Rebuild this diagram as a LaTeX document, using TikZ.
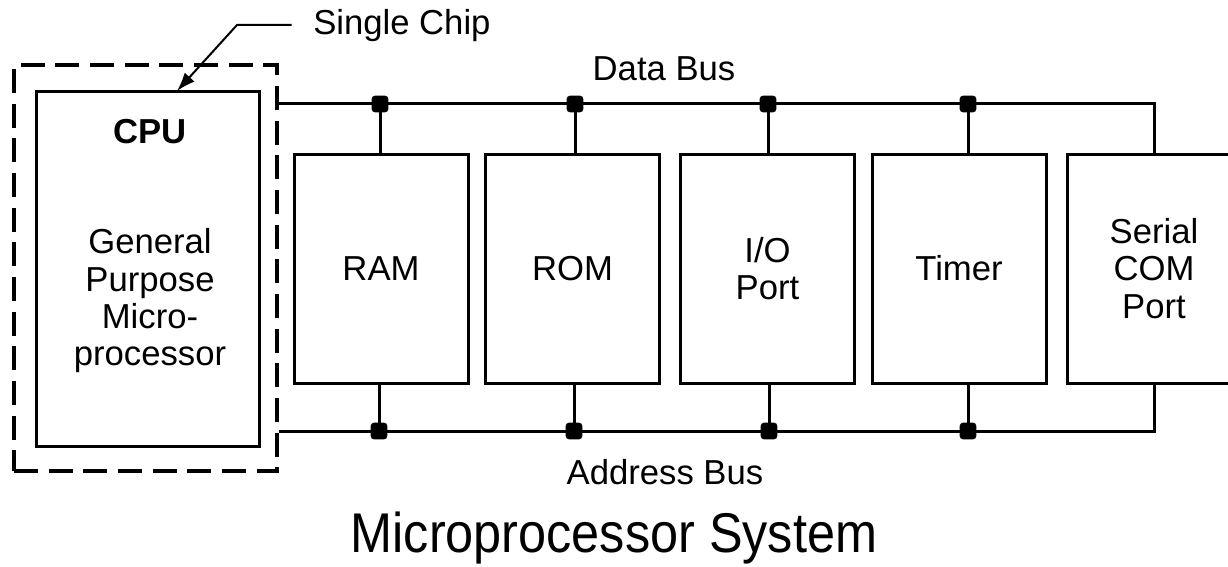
\documentclass[tikz,border=0pt]{standalone}
\usepackage{fontspec}
\setmainfont{Liberation Sans}
\newfontfamily\blockfont{Liberation Sans}
\newfontfamily\captionfont[FakeStretch=0.9]{Liberation Sans}
\usetikzlibrary{arrows.meta}

\tikzset{
  unit/.style={draw, line width=2.25pt, minimum width=130.5pt, minimum height=171.75pt,
    inner sep=0pt, align=center, font=\blockfont\fontsize{26pt}{28pt}\selectfont},
  lbl/.style={inner sep=0pt, font=\blockfont\fontsize{26pt}{28pt}\selectfont},
  tap/.style={fill, rounded corners=2.5pt, minimum size=12.5pt, inner sep=0pt},
  bus/.style={line width=2.25pt}
}

\begin{document}
\begin{tikzpicture}[x=0.75pt,y=0.75pt,yscale=-1,xscale=1]
\useasboundingbox (0,0) rectangle (1228,567);

% single chip outline
\node[draw, dash pattern=on 18pt off 8pt, line width=3pt, minimum width=197.25pt, minimum height=304.5pt] (chip) at (145.5,268) {};

% CPU block
\node[unit, minimum width=167.25pt, minimum height=265.5pt] (cpu) at (147.5,269) {};
\node[lbl, anchor=base, font=\blockfont\bfseries\fontsize{26pt}{28pt}\selectfont] (cpuname) at (150,143) {CPU};
\node[lbl, align=center] (gpm) at (150,301) {General\\Purpose\\Micro-\\processor};

% peripherals
\node[unit] (ram) at (381,268.5) {RAM};
\node[unit] (rom) at (572.5,268.5) {ROM};
\node[unit] (io) at (767.5,268.5) {I/O\\Port};
\node[unit] (timer) at (959,268.5) {Timer};
\node[unit] (serial) at (1154,268.5) {Serial\\COM\\Port};

% bus taps
\coordinate (d1) at (380,104);
\coordinate (d2) at (575,104);
\coordinate (d3) at (768,104);
\coordinate (d4) at (968,104);
\coordinate (a1) at (379,431);
\coordinate (a2) at (574,431);
\coordinate (a3) at (769,431);
\coordinate (a4) at (968,431);

% data bus and address bus
\draw[bus] (chip.east |- d1) -| (serial.north);
\draw[bus] (chip.east |- a1) -| (serial.south);
\foreach \t/\b in {d1/ram, d2/rom, d3/io, d4/timer}
  \draw[bus] (\t) -- (\t |- \b.north);
\foreach \t/\b in {a1/ram, a2/rom, a3/io, a4/timer}
  \draw[bus] (\t) -- (\t |- \b.south);
\foreach \t in {d1,d2,d3,d4,a1,a2,a3,a4}
  \node[tap] at (\t) {};

% bus names
\node[lbl, anchor=base] (dbus) at (664,80) {Data Bus};
\node[lbl, anchor=base] (abus) at (665,484) {Address Bus};

% single chip callout
\node[lbl, anchor=base west] (chiplbl) at (313,35) {Single Chip};
\coordinate (bend) at (237,25);
\coordinate (tip) at (177,91);
\draw[line width=1.5pt, -{Latex[length=14pt,width=10pt]}] ([xshift=-16pt]chiplbl.west |- bend) -- (bend) -- (tip);

% caption
\node[inner sep=0pt, anchor=base, font=\captionfont\fontsize{42pt}{50pt}\selectfont] (title) at (614,552) {Microprocessor System};

\end{tikzpicture}
\end{document}
